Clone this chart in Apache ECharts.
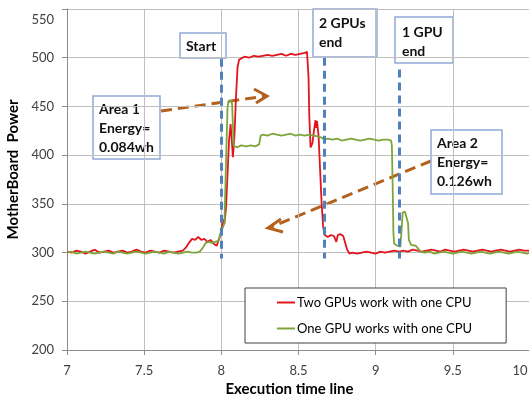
<!DOCTYPE html>
<html>
<head>
<meta charset="utf-8">
<script src="https://cdn.jsdelivr.net/npm/echarts@6/dist/echarts.min.js"></script>
<style>
  html, body { margin: 0; padding: 0; background: #ffffff; }
  #chart { width: 529px; height: 400px; }
</style>
</head>
<body>
<div id="chart"></div>
<script>
// Motherboard power over the execution time line (seconds)
const twoGpuTime = [
  7.00, 7.03, 7.06, 7.09, 7.12, 7.15, 7.18, 7.21, 7.24, 7.27, 7.30, 7.33, 7.36,
  7.39, 7.42, 7.45, 7.48, 7.51, 7.54, 7.57, 7.60, 7.63, 7.66, 7.69, 7.72, 7.75,
  7.77, 7.79, 7.81, 7.83, 7.85, 7.87, 7.89, 7.91, 7.93, 7.95, 7.97, 7.99,
  8.00, 8.01, 8.02, 8.03, 8.04, 8.05, 8.06, 8.07, 8.075, 8.085, 8.095, 8.105, 8.115, 8.12,
  8.15, 8.18, 8.21, 8.24, 8.27, 8.30, 8.33, 8.36, 8.39, 8.42, 8.45, 8.48, 8.51, 8.54, 8.555,
  8.565, 8.57, 8.578, 8.59, 8.60, 8.61, 8.615, 8.62, 8.63, 8.64, 8.65, 8.66, 8.67,
  8.69, 8.71, 8.73, 8.745, 8.755, 8.77, 8.79, 8.80, 8.815, 8.83,
  8.85, 8.88, 8.91, 8.94, 8.97, 9.00, 9.03, 9.06, 9.09, 9.12, 9.15, 9.18, 9.21,
  9.24, 9.27, 9.30, 9.33, 9.36, 9.39, 9.42, 9.45, 9.48, 9.51, 9.54, 9.57, 9.60,
  9.63, 9.66, 9.69, 9.72, 9.75, 9.78, 9.81, 9.84, 9.87, 9.90, 9.93, 9.96, 10.00
];
const twoGpuPower = [
  301, 300, 302, 301, 299, 301, 303, 300, 301, 302, 300, 301, 302,
  300, 301, 303, 301, 300, 302, 301, 300, 302, 301, 300, 301, 302,
  305, 310, 314, 313, 316, 313, 314, 311, 313, 309, 307, 316,
  322, 334, 330, 345, 380, 415, 432, 410, 398, 420, 460, 490, 498, 500,
  501, 500, 502, 501, 502, 503, 502, 503, 504, 502, 504, 503, 504, 505, 506,
  480, 440, 408, 412, 425, 436, 428, 435, 420, 385, 350, 326, 318,
  316, 318, 317, 311, 318, 319, 317, 316, 303, 299,
  300, 299, 300, 301, 300, 299, 301, 300, 301, 302, 301, 302, 301,
  303, 302, 301, 302, 303, 302, 301, 303, 302, 301, 302, 303, 302,
  301, 302, 303, 302, 301, 302, 303, 302, 301, 302, 303, 302, 302
];

const oneGpuTime = [
  7.00, 7.03, 7.06, 7.09, 7.12, 7.15, 7.18, 7.21, 7.24, 7.27, 7.30, 7.33, 7.36,
  7.39, 7.42, 7.45, 7.48, 7.51, 7.54, 7.57, 7.60, 7.63, 7.66, 7.69, 7.72, 7.75,
  7.78, 7.81, 7.84,
  7.86, 7.88, 7.90, 7.92, 7.94, 7.96, 7.98,
  8.00, 8.01, 8.02, 8.03, 8.04, 8.045, 8.055, 8.065, 8.07, 8.075, 8.08, 8.09,
  8.10, 8.13, 8.16, 8.19, 8.22, 8.245, 8.255, 8.27, 8.30, 8.33, 8.36, 8.39,
  8.42, 8.45, 8.48, 8.51, 8.54, 8.57, 8.60, 8.63, 8.65, 8.665,
  8.69, 8.72, 8.75, 8.78, 8.81, 8.84, 8.87, 8.90, 8.93, 8.96, 8.99, 9.02, 9.05, 9.08,
  9.10, 9.105, 9.11, 9.115, 9.12, 9.14, 9.16, 9.17, 9.175, 9.19, 9.20, 9.21, 9.215,
  9.23, 9.26, 9.275, 9.29,
  9.32, 9.35, 9.38, 9.41, 9.44, 9.47, 9.50, 9.53, 9.56, 9.59, 9.62, 9.65, 9.68,
  9.71, 9.74, 9.77, 9.80, 9.83, 9.86, 9.89, 9.92, 9.95, 9.98, 10.00
];
const oneGpuPower = [
  300, 301, 299, 300, 301, 300, 299, 300, 301, 300, 299, 301, 300,
  299, 300, 301, 300, 299, 300, 301, 300, 299, 301, 300, 299, 300,
  301, 300, 300,
  301, 305, 310, 311, 310, 311, 312,
  322, 323, 330, 390, 448, 455, 454, 456, 452, 430, 410, 408,
  408, 410, 409, 410, 409, 411, 420, 421, 420, 422, 421, 420,
  421, 422, 420, 421, 420, 421, 420, 419, 418, 416,
  417, 416, 417, 415, 416, 417, 416, 415, 416, 417, 416, 415, 416, 416,
  415, 410, 370, 320, 309, 307, 306, 328, 341, 342, 340, 330, 313,
  308, 307, 304, 301,
  300, 301, 299, 300, 301, 300, 299, 300, 301, 300, 299, 300, 301,
  300, 299, 300, 301, 300, 299, 300, 301, 300, 299, 300
];

const seriesNames = ['Two GPUs work with one CPU', 'One GPU works with one CPU'];
const xTicks = { min: 7, max: 10, step: 0.5 };
const yTicks = { min: 200, max: 550, step: 50 };

// Phase markers: start, end of the two-GPU run, end of the one-GPU run
const phaseTimes = [8.0, 8.67, 9.15];
const phaseTop = [499, 500, 488];
const phaseBottom = 294;

const FONT = 'Lato, "Liberation Sans", sans-serif';
const pair = (xs, ys) => xs.map((x, i) => [x, ys[i]]);

const chart = echarts.init(document.getElementById('chart'), null, { renderer: 'canvas' });

// Note boxes and dashed pointers placed over the plot
function noteBox(x, y, w, h, text, tx, ty) {
  return {
    type: 'group',
    children: [
      { type: 'rect', shape: { x: x, y: y, width: w, height: h },
        style: { fill: '#ffffff', stroke: '#8ea9d6', lineWidth: 1.5 } },
      { type: 'text', x: tx, y: ty,
        style: { text: text, fill: '#111111', font: 'bold 14px ' + FONT, lineHeight: 19 } }
    ],
    z: 100
  };
}
function pointer(x1, y1, x2, y2, head) {
  return {
    type: 'group',
    children: [
      { type: 'line', shape: { x1: x1, y1: y1, x2: x2, y2: y2 },
        style: { stroke: '#b5611e', lineWidth: 3, lineDash: [11, 6] } },
      { type: 'polyline', shape: { points: head },
        style: { stroke: '#b5611e', lineWidth: 3, fill: null } }
    ],
    z: 90
  };
}

const option = {
  animation: false,
  backgroundColor: '#ffffff',
  grid: { left: 67, top: 9, width: 463, height: 341, containLabel: false, outerBoundsMode: 'none' },
  xAxis: {
    type: 'value',
    min: xTicks.min, max: xTicks.max, interval: xTicks.step,
    name: 'Execution time line',
    nameLocation: 'middle',
    nameGap: 31,
    nameTextStyle: { fontFamily: FONT, fontWeight: 'bold', fontSize: 15, color: '#000000', padding: [0, 18, 0, 0] },
    axisLine: { show: true, onZero: false, lineStyle: { color: '#8c8c8c', width: 1 } },
    axisTick: { show: true, length: 5, lineStyle: { color: '#8c8c8c' } },
    axisLabel: {
      fontFamily: FONT, fontSize: 13, color: '#404040', margin: 14,
      // the last label is nudged left so it stays on the page
      formatter: v => (v === xTicks.max ? '{edge|' + v + '}' : String(v)),
      rich: { edge: { fontFamily: FONT, fontSize: 13, color: '#404040', padding: [0, 20, 0, 0] } }
    },
    splitLine: { show: true, lineStyle: { color: '#bfbfbf', width: 1 } }
  },
  yAxis: {
    type: 'value',
    min: yTicks.min, max: yTicks.max, interval: yTicks.step,
    name: 'MotherBoard  Power',
    nameLocation: 'middle',
    nameRotate: 90,
    nameGap: 41,
    nameTextStyle: { fontFamily: FONT, fontWeight: 'bold', fontSize: 15, color: '#000000', padding: [0, 0, 0, 20] },
    axisLine: { show: true, lineStyle: { color: '#8c8c8c', width: 1 } },
    axisTick: { show: true, length: 5, lineStyle: { color: '#8c8c8c' } },
    axisLabel: {
      fontFamily: FONT, fontSize: 13, color: '#404040', margin: 13,
      formatter: v => (v === yTicks.max ? '{top|' + v + '}' : String(v)),
      rich: { top: { fontFamily: FONT, fontSize: 13, color: '#404040', padding: [22, 0, 0, 0] } }
    },
    splitLine: { show: true, lineStyle: { color: '#bfbfbf', width: 1 } }
  },
  legend: {
    data: seriesNames,
    orient: 'vertical',
    left: 245, top: 288,
    backgroundColor: '#ffffff',
    borderColor: '#404040',
    borderWidth: 1,
    padding: [8, 34, 8, 32],
    itemGap: 13,
    itemWidth: 18,
    itemHeight: 2,
    icon: 'rect',
    textStyle: { fontFamily: FONT, fontSize: 13, color: '#000000', padding: [0, 0, 0, -3] },
    z: 50
  },
  series: [
    {
      name: seriesNames[0],
      type: 'line',
      data: pair(twoGpuTime, twoGpuPower),
      symbol: 'none',
      color: '#e0161c',
      lineStyle: { color: '#e0161c', width: 1.8 },
      markLine: {
        silent: true,
        symbol: ['none', 'none'],
        label: { show: false },
        lineStyle: { color: '#4f81bd', width: 3, type: [8, 5] },
        data: phaseTimes.map((t, i) => [{ coord: [t, phaseTop[i]] }, { coord: [t, phaseBottom] }])
      },
      z: 3
    },
    {
      name: seriesNames[1],
      type: 'line',
      data: pair(oneGpuTime, oneGpuPower),
      symbol: 'none',
      color: '#7ea53c',
      lineStyle: { color: '#7ea53c', width: 1.8 },
      z: 4
    }
  ],
  graphic: [
    pointer(161, 111, 266, 96, [[254, 89], [267, 96], [256, 103]]),
    pointer(431, 161, 271, 227, [[281, 219], [268, 228], [283, 232]]),
    noteBox(180, 33, 46, 25, 'Start', 186, 37),
    noteBox(313, 9, 64, 48, '2 GPUs\nend', 319, 14),
    noteBox(395, 17, 58, 46, '1 GPU\nend', 402, 23),
    noteBox(93, 96, 67, 63, 'Area 1\nEnergy=\n0.084wh', 99, 100),
    noteBox(431, 130, 71, 64, 'Area 2\nEnergy=\n0.126wh', 437, 134)
  ]
};

chart.setOption(option);
</script>
</body>
</html>
